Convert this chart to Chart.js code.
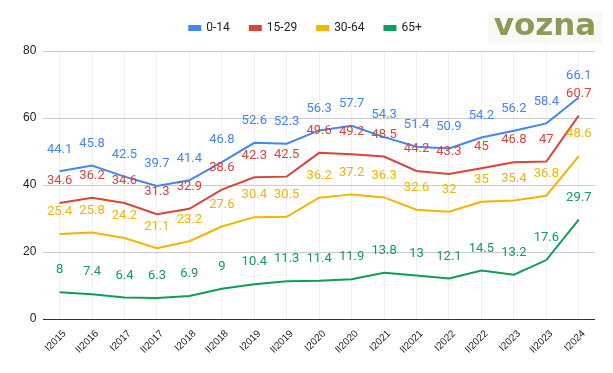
<!DOCTYPE html>
<html>
<head>
<meta charset="utf-8">
<script src="https://cdn.jsdelivr.net/npm/chart.js@4"></script>
<style>
  html, body { margin: 0; padding: 0; background: #fff; }
  #wrap { width: 613px; height: 373px; position: relative; }
</style>
</head>
<body>
<div id="wrap"><canvas id="out" width="613" height="373"></canvas></div>
<script>
const periods = ["I2015", "II2016", "I2017", "II2017", "I2018", "II2018", "I2019", "II2019", "I2020",
  "II2020", "I2021", "II2021", "I2022", "II2022", "I2023", "II2023", "I2024"];

const age0to14 = [44.1, 45.8, 42.5, 39.7, 41.4, 46.8, 52.6, 52.3, 56.3, 57.7, 54.3, 51.4, 50.9, 54.2, 56.2, 58.4, 66.1];
const age15to29 = [34.6, 36.2, 34.6, 31.3, 32.9, 38.6, 42.3, 42.5, 49.6, 49.2, 48.5, 44.2, 43.3, 45, 46.8, 47, 60.7];
const age30to64 = [25.4, 25.8, 24.2, 21.1, 23.2, 27.6, 30.4, 30.5, 36.2, 37.2, 36.3, 32.6, 32, 35, 35.4, 36.8, 48.6];
const age65plus = [8, 7.4, 6.4, 6.3, 6.9, 9, 10.4, 11.3, 11.4, 11.9, 13.8, 13, 12.1, 14.5, 13.2, 17.6, 29.7];

const seriesNames = ["0-14", "15-29", "30-64", "65+"];
const yTicks = [0, 20, 40, 60, 80];

function makeSet(name, data, color) {
  return {
    label: name,
    data: data,
    borderColor: color,
    backgroundColor: color,
    borderWidth: 2,
    pointRadius: 0,
    tension: 0
  };
}

// numbers above each point, like the sheet's data labels
const pointLabels = {
  id: "pointLabels",
  afterDatasetsDraw(chart) {
    const ctx = chart.ctx;
    ctx.save();
    ctx.font = "13px Roboto";
    ctx.textAlign = "center";
    ctx.textBaseline = "middle";
    chart.data.datasets.forEach(function(ds, i) {
      const meta = chart.getDatasetMeta(i);
      meta.data.forEach(function(pt, j) {
        ctx.fillStyle = ds.borderColor;
        ctx.fillText(String(ds.data[j]), pt.x, pt.y - 22);
      });
    });
    ctx.restore();
  }
};

// x labels at 45 degrees, placed on the category scale's tick positions
const slantedTicks = {
  id: "slantedTicks",
  afterDraw(chart) {
    const ctx = chart.ctx;
    const xScale = chart.scales.x;
    const top = chart.chartArea.bottom + 13;
    ctx.save();
    ctx.font = "10px Arial";
    ctx.fillStyle = "#222";
    ctx.textAlign = "right";
    ctx.textBaseline = "middle";
    xScale.ticks.forEach(function(t, i) {
      const x = xScale.getPixelForTick(i);
      ctx.save();
      ctx.translate(x + 5, top);
      ctx.rotate(-Math.PI / 4);
      ctx.fillText(xScale.getLabelForValue(t.value), 0, 0);
      ctx.restore();
    });
    ctx.restore();
  }
};

const logo = {
  id: "logo",
  beforeInit(chart) {
    // a bit more room under the legend
    const fit = chart.legend.fit;
    chart.legend.fit = function() {
      fit.call(this);
      this.height += 7;
    };
  },
  afterDraw(chart) {
    const ctx = chart.ctx;
    ctx.save();
    ctx.fillStyle = "#f8f8f4";
    ctx.fillRect(488, 12, 114, 32);
    ctx.fillStyle = "#8c9a55";
    ctx.font = "bold 31px 'DejaVu Sans'";
    ctx.textAlign = "center";
    ctx.textBaseline = "middle";
    ctx.fillText("vozna", 545, 27);
    ctx.restore();
  }
};

const canvasCtx = document.getElementById("out").getContext("2d");

new Chart(canvasCtx, {
  type: "line",
  data: {
    labels: periods,
    datasets: [
      makeSet(seriesNames[0], age0to14, "#4285f4"),
      makeSet(seriesNames[1], age15to29, "#db4437"),
      makeSet(seriesNames[2], age30to64, "#f4b400"),
      makeSet(seriesNames[3], age65plus, "#0f9d58")
    ]
  },
  options: {
    responsive: false,
    animation: false,
    layout: { padding: { left: 16, right: 18, top: 2, bottom: 8 } },
    plugins: {
      legend: {
        position: "top",
        labels: {
          boxWidth: 11,
          boxHeight: 4,
          padding: 20,
          color: "#222",
          font: { family: "Roboto", size: 12 }
        }
      },
      tooltip: { enabled: false }
    },
    scales: {
      x: {
        offset: true,
        grid: { color: "#f0f0f0", drawTicks: false, offset: false },
        border: { display: false },
        ticks: { display: false },
        afterFit(axis) {
          axis.height = 46;
        }
      },
      y: {
        min: 0,
        max: 80,
        afterBuildTicks(axis) {
          axis.ticks = yTicks.map(v => ({ value: v }));
        },
        grid: {
          color: ctx => ctx.tick.value === 0 ? "#333" : "#ccc",
          drawTicks: false
        },
        border: { display: false },
        ticks: {
          color: "#222",
          font: { family: "Arial", size: 12 },
          padding: 7
        }
      }
    }
  },
  plugins: [pointLabels, slantedTicks, logo]
});
</script>
</body>
</html>
